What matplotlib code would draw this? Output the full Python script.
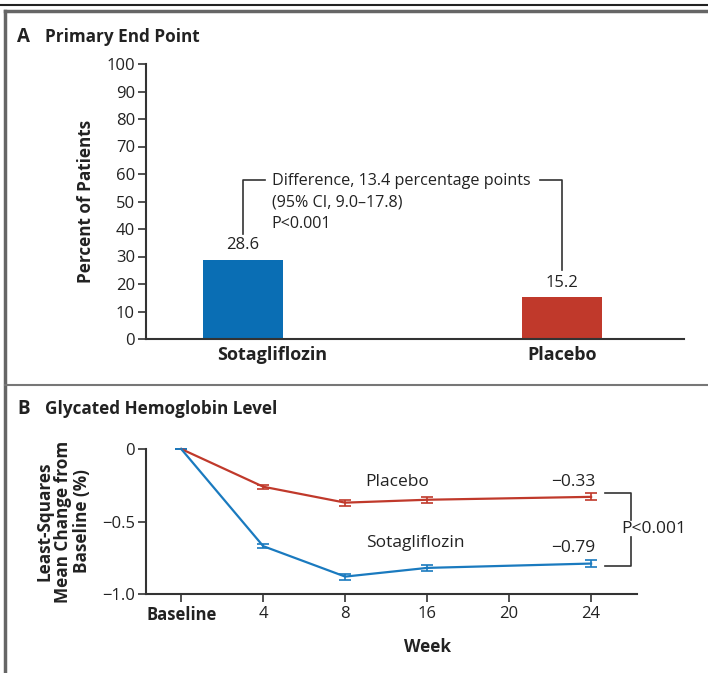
import matplotlib
matplotlib.use("Agg")
import matplotlib.pyplot as plt
from matplotlib.lines import Line2D

plt.rcParams['font.family'] = ['Open Sans', 'DejaVu Sans']

# panel A data
groups = ['Sotagliflozin', 'Placebo']
percents = [28.6, 15.2]
bar_colors = ['#0a6eb4', '#c0392b']

# panel B data
week_labels = ['Baseline', '4', '8', '16', '20', '24']
weeks_pos = [0, 1, 2, 3, 5]
placebo = [0, -0.26, -0.37, -0.35, -0.33]
placebo_err = [0, 0.015, 0.02, 0.022, 0.025]
sota = [0, -0.67, -0.88, -0.82, -0.79]
sota_err = [0, 0.015, 0.02, 0.022, 0.025]

W, H = 708, 673
AX = '#333333'
TXT = '#222222'


def fx(px):
    return px / W


def fy(py):
    return 1 - py / H


fig = plt.figure(figsize=(W / 100, H / 100), dpi=100)

# frame lines
fig.add_artist(Line2D([0, 1], [fy(5), fy(5)], color='#222222', lw=1.5))
fig.add_artist(Line2D([fx(5), 1], [fy(11), fy(11)], color='#666666', lw=2.5))
fig.add_artist(Line2D([fx(5), fx(5)], [0, fy(11)], color='#666666', lw=2.5))
fig.add_artist(Line2D([fx(5), 1], [fy(385), fy(385)], color='#777777', lw=1.5))

# ---------- panel A ----------
fig.text(fx(17), fy(37), 'A', fontsize=13.5, fontweight='bold', color=TXT, va='center')
fig.text(fx(45), fy(37), 'Primary End Point', fontsize=12.3, fontweight='bold', color=TXT, va='center')

axA = fig.add_axes([fx(146), fy(339), fx(684) - fx(146), fy(64) - fy(339)])
xa = list(range(len(groups)))
axA.bar(xa, percents, width=0.25, color=bar_colors)
axA.set_xlim(-0.304, 1.382)
axA.set_ylim(0, 100)
axA.set_yticks(range(0, 101, 10))
axA.set_xticks([])
axA.tick_params(axis='y', direction='out', length=6, width=1.2, color=AX, labelsize=12, labelcolor=TXT, pad=2)
for s in ['top', 'right']:
    axA.spines[s].set_visible(False)
for s in ['left', 'bottom']:
    axA.spines[s].set_color(AX)
    axA.spines[s].set_linewidth(1.5)
axA.set_ylabel('Percent of Patients', fontweight='bold', fontsize=12.3, color=TXT, labelpad=8)

# category labels (the first one sits right of its bar in the original)
label_x = [0.09, 1]
for x, g in zip(label_x, groups):
    axA.text(x, -6, g, ha='center', va='center', fontsize=13, fontweight='bold', color=TXT)

for x, v, yl in zip(xa, percents, [34.2, 20.4]):
    axA.text(x, yl, f'{v}', ha='center', va='center', fontsize=12, color=TXT)

# difference bracket
axA.plot([0, 0, 0.07], [38.2, 57.8, 57.8], color=AX, lw=1.2)
axA.plot([0.93, 1, 1], [57.8, 57.8, 25.0], color=AX, lw=1.2)
diff_lines = ['Difference, 13.4 percentage points', '(95% CI, 9.0\u201317.8)', 'P<0.001']
for yl, t in zip([57.4, 49.7, 42.0], diff_lines):
    axA.text(0.09, yl, t, ha='left', va='center', fontsize=11.6, color=TXT)

# ---------- panel B ----------
fig.text(fx(17), fy(409), 'B', fontsize=13.5, fontweight='bold', color=TXT, va='center')
fig.text(fx(45), fy(409), 'Glycated Hemoglobin Level', fontsize=12.3, fontweight='bold', color=TXT, va='center')

axB = fig.add_axes([fx(146), fy(594), fx(637) - fx(146), fy(449) - fy(594)])
axB.errorbar(weeks_pos, placebo, yerr=placebo_err, color='#c0392b', lw=1.6,
             capsize=4, capthick=1.2, elinewidth=1.2, clip_on=False)
axB.errorbar(weeks_pos, sota, yerr=sota_err, color='#1a7abf', lw=1.6,
             capsize=4, capthick=1.2, elinewidth=1.2, clip_on=False)
axB.set_xlim(-0.43, 5.56)
axB.set_ylim(-1.0, 0)
axB.set_yticks([0, -0.5, -1.0])
axB.set_yticklabels(['0', '\u22120.5', '\u22121.0'])
axB.set_xticks(range(len(week_labels)))
axB.set_xticklabels(week_labels, fontsize=12, color=TXT)
axB.get_xticklabels()[0].set_fontweight('bold')
axB.tick_params(axis='x', direction='out', length=6, width=1.2, color=AX, pad=3)
axB.tick_params(axis='y', direction='out', length=6, width=1.2, color=AX, labelsize=12, labelcolor=TXT, pad=2)
for s in ['top', 'right']:
    axB.spines[s].set_visible(False)
for s in ['left', 'bottom']:
    axB.spines[s].set_color(AX)
    axB.spines[s].set_linewidth(1.5)
axB.text(3, -1.365, 'Week', ha='center', va='center', fontweight='bold', fontsize=12.3, color=TXT)
axB.set_ylabel('Least-Squares\nMean Change from\nBaseline (%)', fontweight='bold',
               fontsize=12.3, color=TXT, labelpad=8, linespacing=1.05)

axB.text(2.25, -0.225, 'Placebo', ha='left', va='center', fontsize=12.5, color=TXT)
axB.text(2.25, -0.65, 'Sotagliflozin', ha='left', va='center', fontsize=12.5, color=TXT)
axB.text(5.05, -0.225, '\u22120.33', ha='right', va='center', fontsize=12.5, color=TXT)
axB.text(5.05, -0.68, '\u22120.79', ha='right', va='center', fontsize=12.5, color=TXT)

# P-value bracket
axB.plot([5.17, 5.49, 5.49], [-0.303, -0.303, -0.49], color=AX, lw=1.2, clip_on=False)
axB.plot([5.17, 5.49, 5.49], [-0.807, -0.807, -0.61], color=AX, lw=1.2, clip_on=False)
axB.text(5.77, -0.55, 'P<0.001', ha='center', va='center', fontsize=12.5, color=TXT)

fig.savefig('out.png', dpi=100)
